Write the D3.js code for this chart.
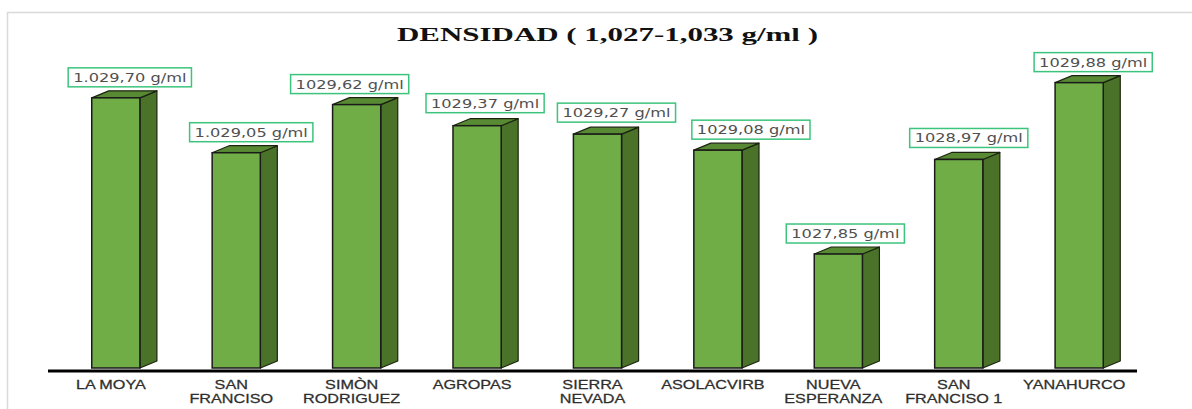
<!DOCTYPE html>
<html>
<head>
<meta charset="utf-8">
<script src="https://cdn.jsdelivr.net/npm/d3@7"></script>
<style>
  body { margin: 0; background: #fff; }
</style>
</head>
<body>
<div id="grafico"></div>
<script>
var width = 1192, height = 409;

// datos
var categorias = ["LA MOYA", "SAN FRANCISO", "SIMÒN RODRIGUEZ", "AGROPAS", "SIERRA NEVADA", "ASOLACVIRB", "NUEVA ESPERANZA", "SAN FRANCISO 1", "YANAHURCO"];
var lineasCategoria = [["LA MOYA"], ["SAN", "FRANCISO"], ["SIMÒN", "RODRIGUEZ"], ["AGROPAS"], ["SIERRA", "NEVADA"], ["ASOLACVIRB"], ["NUEVA", "ESPERANZA"], ["SAN", "FRANCISO 1"], ["YANAHURCO"]];
var densidad = [1029.70, 1029.05, 1029.62, 1029.37, 1029.27, 1029.08, 1027.85, 1028.97, 1029.88];
var etiquetas = ["1.029,70 g/ml", "1.029,05 g/ml", "1029,62 g/ml", "1029,37 g/ml", "1029,27 g/ml", "1029,08 g/ml", "1027,85 g/ml", "1028,97 g/ml", "1029,88 g/ml"];
var titulo = "DENSIDAD ( 1,027-1,033 g/ml )";

// desplazamiento manual de las etiquetas de datos (como en el original)
var desplazEtiqueta = [14, 15, -7, 8, 19, 33, 7, 10, 14];
var subidaEtiqueta = [11, 11, 11, 13, 12, 11, 11, 12, 11];

var data = categorias.map(function (c, i) {
    return { cat: c, lineas: lineasCategoria[i], valor: densidad[i], etiqueta: etiquetas[i],
             dx: desplazEtiqueta[i], dy: subidaEtiqueta[i] };
});

const svg = d3.select("#grafico")
    .append("svg")
    .attr("width", width)
    .attr("height", height)
    .style("font-family", "'DejaVu Sans', sans-serif");

// marco del grafico
svg.append("rect")
    .attr("x", 7.5)
    .attr("y", 12.5)
    .attr("width", 1200)
    .attr("height", 420)
    .attr("fill", "none")
    .attr("stroke", "#d9d9d9")
    .attr("stroke-width", 1.5);

// titulo
svg.append("text")
    .attr("x", 397)
    .attr("y", 41)
    .attr("textLength", 421)
    .attr("lengthAdjust", "spacingAndGlyphs")
    .style("font-family", "'Liberation Serif', 'Times New Roman', serif")
    .style("font-weight", "bold")
    .style("font-size", "18px")
    .attr("fill", "#111")
    .text(titulo);

// escalas
var x = d3.scaleBand()
    .domain(categorias)
    .range([52, 1143])
    .paddingInner(0.6)
    .paddingOuter(0.33);

var y = d3.scaleLinear()
    .domain([1026.5, 1030])
    .range([368, 72.5]);

var base = y.range()[0];
var dx = 17, dy = 7; // profundidad 3D

var barras = svg.append("g")
    .selectAll("g")
    .data(data)
    .enter()
    .append("g");

// cara lateral
barras.append("path")
    .attr("d", function (d) {
        var x1 = x(d.cat) + x.bandwidth(), t = y(d.valor);
        return "M" + x1 + "," + t + "L" + (x1 + dx) + "," + (t - dy) +
            "L" + (x1 + dx) + "," + (base - dy) + "L" + x1 + "," + base + "Z";
    })
    .attr("fill", "#4a7229")
    .attr("stroke", "#1c2410")
    .attr("stroke-width", 1.2)
    .attr("stroke-linejoin", "round");

// cara superior
barras.append("path")
    .attr("d", function (d) {
        var x0 = x(d.cat), x1 = x0 + x.bandwidth(), t = y(d.valor);
        return "M" + x0 + "," + t + "L" + x1 + "," + t + "L" + (x1 + dx) + "," + (t - dy) +
            "L" + (x0 + dx) + "," + (t - dy) + "Z";
    })
    .attr("fill", "#578a33")
    .attr("stroke", "#1c2410")
    .attr("stroke-width", 1.2)
    .attr("stroke-linejoin", "round");

// cara frontal
barras.append("rect")
    .attr("x", function (d) { return x(d.cat); })
    .attr("y", function (d) { return y(d.valor); })
    .attr("width", x.bandwidth())
    .attr("height", function (d) { return base - y(d.valor); })
    .attr("fill", "#70ad47")
    .attr("stroke", "#1a1a1a")
    .attr("stroke-width", 1.5);

// linea del eje
svg.append("line")
    .attr("x1", 48)
    .attr("x2", 1137)
    .attr("y1", 371)
    .attr("y2", 371)
    .attr("stroke", "#000")
    .attr("stroke-width", 3);

// etiquetas de categoria
var sx = 1.35;
svg.append("g")
    .selectAll("text")
    .data(data)
    .enter()
    .append("text")
    .attr("transform", function (d) {
        return "translate(" + (x(d.cat) + x.bandwidth() / 2 - 5) + ",389) scale(" + sx + ",1)";
    })
    .attr("text-anchor", "middle")
    .style("font-family", "'Liberation Sans', Arial, sans-serif")
    .style("font-size", "12px")
    .attr("fill", "#2e2e2e")
    .attr("stroke", "#2e2e2e")
    .attr("stroke-width", 0.25)
    .each(function (d) {
        var t = d3.select(this);
        d.lineas.forEach(function (l, i) {
            t.append("tspan").attr("x", 0).attr("y", i * 14).text(l);
        });
    });

// etiquetas de datos
var etq = svg.append("g")
    .selectAll("g")
    .data(data)
    .enter()
    .append("g")
    .attr("transform", function (d) {
        return "translate(" + (x(d.cat) + x.bandwidth() / 2 + d.dx) + "," + (y(d.valor) - d.dy) + ")";
    });

etq.append("rect")
    .attr("fill", "#fff")
    .attr("stroke", "#3cc47c")
    .attr("stroke-width", 1.5);

etq.append("text")
    .attr("transform", "scale(1.35,1)")
    .attr("text-anchor", "middle")
    .attr("y", -5)
    .style("font-size", "12px")
    .attr("fill", "#505050")
    .text(function (d) { return d.etiqueta; });

etq.each(function () {
    var g = d3.select(this);
    var w = g.select("text").node().getComputedTextLength() * 1.35 + 10;
    g.select("rect")
        .attr("x", -w / 2)
        .attr("y", -19)
        .attr("width", w)
        .attr("height", 19);
});
</script>
</body>
</html>
